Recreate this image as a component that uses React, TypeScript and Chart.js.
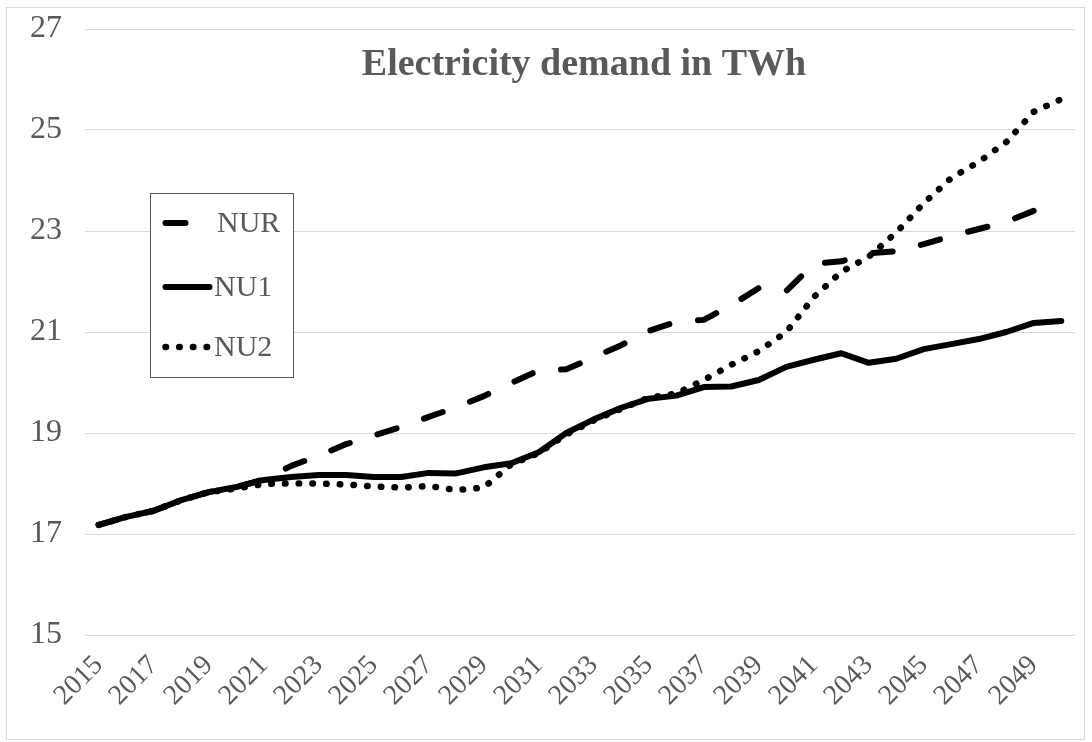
import React, { useEffect, useRef } from "react";
import { Chart, registerables } from "chart.js";

Chart.register(...registerables);

const years: string[] = [
  "2015", "2016", "2017", "2018", "2019", "2020", "2021", "2022", "2023", "2024",
  "2025", "2026", "2027", "2028", "2029", "2030", "2031", "2032", "2033", "2034",
  "2035", "2036", "2037", "2038", "2039", "2040", "2041", "2042", "2043", "2044",
  "2045", "2046", "2047", "2048", "2049", "2050",
];

const nurValues: number[] = [
  17.18, 17.34, 17.46, 17.67, 17.83, 17.93, 18.08, 18.35, 18.55, 18.78,
  18.95, 19.12, 19.32, 19.51, 19.73, 19.99, 20.24, 20.26, 20.5, 20.74,
  21.02, 21.2, 21.24, 21.53, 21.87, 21.81, 22.35, 22.4, 22.56, 22.6,
  22.74, 22.9, 23.04, 23.18, 23.4, 23.57,
];

const nu1Values: number[] = [
  17.18, 17.34, 17.46, 17.67, 17.83, 17.93, 18.07, 18.13, 18.17, 18.17,
  18.13, 18.13, 18.21, 18.2, 18.32, 18.4, 18.62, 19.0, 19.27, 19.5,
  19.68, 19.74, 19.91, 19.92, 20.05, 20.31, 20.45, 20.58, 20.39, 20.47,
  20.66, 20.76, 20.86, 21.0, 21.18, 21.22,
];

const nu2Values: number[] = [
  17.18, 17.34, 17.46, 17.67, 17.83, 17.9, 17.99, 18.0, 18.0, 17.98,
  17.94, 17.92, 17.95, 17.87, 17.92, 18.38, 18.6, 18.97, 19.25, 19.48,
  19.7, 19.78, 20.05, 20.35, 20.62, 21.0, 21.69, 22.19, 22.49, 22.97,
  23.55, 24.05, 24.37, 24.76, 25.36, 25.61,
];

const seriesNames: string[] = ["NUR", "NU1", "NU2"];
const titleText = "Electricity demand in TWh";

const yMin = 15;
const yMax = 27;
const yStep = 2;

const GRAY = "#595959";
const FONT = "'Liberation Serif', 'Times New Roman', serif";

const titlePlugin = {
  id: "innerTitle",
  afterDraw(chart: any) {
    const { ctx, chartArea } = chart;
    ctx.save();
    ctx.font = `bold 38px ${FONT}`;
    ctx.fillStyle = GRAY;
    ctx.textAlign = "center";
    ctx.textBaseline = "alphabetic";
    ctx.fillText(titleText, (chartArea.left + chartArea.right) / 2 + 4, 75);
    ctx.restore();
  },
};

const boxLegendPlugin = {
  id: "boxLegend",
  afterDraw(chart: any) {
    const { ctx } = chart;
    const bx = 150.5, by = 193.5, bw = 143, bh = 184;
    const rowsY = [223, 287, 347];
    ctx.save();
    ctx.fillStyle = "#ffffff";
    ctx.fillRect(bx, by, bw, bh);
    ctx.strokeStyle = GRAY;
    ctx.lineWidth = 1;
    ctx.setLineDash([]);
    ctx.strokeRect(bx, by, bw, bh);
    chart.data.datasets.forEach((ds: any, i: number) => {
      const y = rowsY[i];
      ctx.beginPath();
      ctx.setLineDash(ds.borderDash || []);
      ctx.lineCap = "round";
      ctx.lineWidth = ds.borderWidth;
      ctx.strokeStyle = ds.borderColor;
      ctx.moveTo(165.5, y);
      ctx.lineTo(209.5, y);
      ctx.stroke();
      ctx.setLineDash([]);
      ctx.font = `30px ${FONT}`;
      ctx.fillStyle = GRAY;
      ctx.textAlign = "left";
      ctx.textBaseline = "middle";
      ctx.fillText(ds.label, i === 0 ? 217 : 214, y + 1);
    });
    ctx.restore();
  },
};

export default function App() {
  const canvasRef = useRef<HTMLCanvasElement | null>(null);

  useEffect(() => {
    if (!canvasRef.current) return;
    const chart = new Chart(canvasRef.current, {
      type: "line",
      data: {
        labels: years,
        datasets: [
          {
            label: seriesNames[0],
            data: nurValues,
            borderColor: "#000000",
            backgroundColor: "#000000",
            borderWidth: 6,
            borderDash: [20, 29],
            borderCapStyle: "round",
            borderJoinStyle: "round",
            pointRadius: 0,
            tension: 0,
            fill: false,
          },
          {
            label: seriesNames[1],
            data: nu1Values,
            borderColor: "#000000",
            backgroundColor: "#000000",
            borderWidth: 6,
            borderCapStyle: "round",
            borderJoinStyle: "round",
            pointRadius: 0,
            tension: 0,
            fill: false,
          },
          {
            label: seriesNames[2],
            data: nu2Values,
            borderColor: "#000000",
            backgroundColor: "#000000",
            borderWidth: 6.5,
            borderDash: [0.5, 13.2],
            borderCapStyle: "round",
            borderJoinStyle: "round",
            pointRadius: 0,
            tension: 0,
            fill: false,
          },
        ],
      },
      options: {
        responsive: false,
        animation: false,
        devicePixelRatio: 1,
        layout: { padding: { top: 29, right: 17, left: 0, bottom: 0 } },
        plugins: {
          legend: { display: false },
          title: { display: false },
          tooltip: { enabled: false },
        },
        scales: {
          x: {
            type: "category",
            offset: true,
            grid: { display: false },
            border: { display: false },
            ticks: {
              autoSkip: false,
              minRotation: 45,
              maxRotation: 45,
              padding: 6,
              color: GRAY,
              font: { family: FONT, size: 28 },
              callback: (_v: any, idx: number) => (idx % 2 === 0 ? years[idx] : ""),
            },
            afterFit: (s: any) => {
              s.height = 107;
            },
          },
          y: {
            min: yMin,
            max: yMax,
            grid: {
              color: "#d9d9d9",
              lineWidth: 1,
              drawTicks: true,
              tickLength: 23,
              tickColor: "rgba(0,0,0,0)",
            },
            border: { display: false },
            ticks: {
              stepSize: yStep,
              padding: 0,
              color: GRAY,
              font: { family: FONT, size: 32 },
            },
            afterFit: (s: any) => {
              s.width = 85;
            },
          },
        },
      },
      plugins: [titlePlugin, boxLegendPlugin],
    } as any);
    return () => chart.destroy();
  }, []);

  return (
    <div style={{ position: "absolute", left: 0, top: 0, width: 1092, height: 742, background: "#ffffff" }}>
      <div
        style={{
          position: "absolute",
          left: 6,
          top: 7,
          width: 1079,
          height: 733,
          border: "1px solid #d9d9d9",
          boxSizing: "border-box",
        }}
      />
      <canvas
        ref={canvasRef}
        width={1092}
        height={742}
        style={{ position: "absolute", left: 0, top: 0, width: 1092, height: 742 }}
      />
    </div>
  );
}
